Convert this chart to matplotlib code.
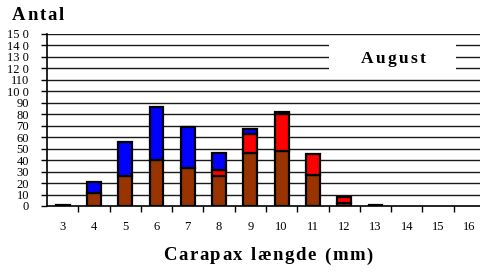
import matplotlib
matplotlib.use("Agg")
import matplotlib.pyplot as plt
from matplotlib.patches import Rectangle
from matplotlib.font_manager import FontProperties

categories = [3, 4, 5, 6, 7, 8, 9, 10, 11, 12, 13, 14, 15, 16]
brown = [1, 11, 26, 40, 33, 26, 46, 48, 27, 3, 1, 0, 0, 0]
red = [0, 0, 0, 0, 0, 5, 17, 32, 18, 5, 0, 0, 0, 0]
blue = [0, 10, 30, 46, 36, 15, 4, 2, 0, 0, 0, 0, 0, 0]
yticks = list(range(0, 151, 10))
ytick_labels = ["0", "10", "20", "30", "40", "50", "60", "70", "80", "90",
                "10 0", "110", "12 0", "13 0", "14 0", "15 0"]

fig = plt.figure(figsize=(4.8, 2.73), dpi=100)
W, H = 480, 273
x0, x1 = 47, 485
y0, y1 = 206, 34
ax = fig.add_axes([x0 / W, 1 - y0 / H, (x1 - x0) / W, (y0 - y1) / H])

serif = ["Liberation Serif", "DejaVu Serif"]

for y in yticks[1:]:
    ax.axhline(y, color="#1a1a1a", lw=1.0, zorder=1)

bw = 0.44
kw = dict(width=bw, edgecolor="black", linewidth=1.6, zorder=3)


def stacked(vals, bottoms, color):
    xs = [c for c, v in zip(categories, vals) if v > 0]
    hs = [v for v in vals if v > 0]
    bs = [b for b, v in zip(bottoms, vals) if v > 0]
    ax.bar(xs, hs, bottom=bs, color=color, **kw)


zeros = [0] * len(categories)
stacked(brown, zeros, "#993300")
stacked(red, brown, "#FF0000")
stacked(blue, [b + r for b, r in zip(brown, red)], "#0000FF")

ax.set_xlim(2.5, 16.5)
ax.set_ylim(0, 150)
ax.set_xticks(categories)
ax.set_xticklabels([str(c) for c in categories], fontfamily=serif, fontsize=9)
ax.set_xticks([c + 0.5 for c in categories[:-1]], minor=True)
ax.tick_params(axis="x", which="major", length=0, pad=11)
ax.tick_params(axis="x", which="minor", length=4, width=1, color="black", direction="out")
ax.set_yticks(yticks)
ax.set_yticklabels(ytick_labels, fontfamily=serif, fontsize=9)
ax.tick_params(axis="y", length=4, width=1, direction="out", pad=9)

for s in ["top", "right"]:
    ax.spines[s].set_visible(False)
ax.spines["left"].set_linewidth(1.2)
ax.spines["bottom"].set_linewidth(1.2)

ax.add_patch(Rectangle(((329 - x0) / (x1 - x0), (y0 - 76) / (y0 - y1)),
                       (456 - 329) / (x1 - x0), (76 - 37) / (y0 - y1),
                       transform=ax.transAxes, facecolor="white", edgecolor="none", zorder=2))

renderer = fig.canvas.get_renderer()


def spaced_text(cx, cy, s, size, spacing_px):
    fp = FontProperties(family="Liberation Serif", weight="bold", size=size)
    pos = []
    for i in range(len(s) + 1):
        w = renderer.get_text_width_height_descent(s[:i], fp, ismath=False)[0] if i else 0.0
        pos.append(w + i * spacing_px)
    total = pos[-1] - spacing_px
    start = cx - total / 2
    for i, ch in enumerate(s):
        if ch == " ":
            continue
        fig.text((start + pos[i]) / W, 1 - cy / H, ch, ha="left", va="center",
                 fontproperties=fp, zorder=5)


spaced_text(393, 59, "August", 12.5, 2.2)
spaced_text(38, 16, "Antal", 13.5, 1.8)
spaced_text(268, 256, "Carapax længde (mm)", 13.5, 1.6)

fig.savefig("out.png", dpi=100)
